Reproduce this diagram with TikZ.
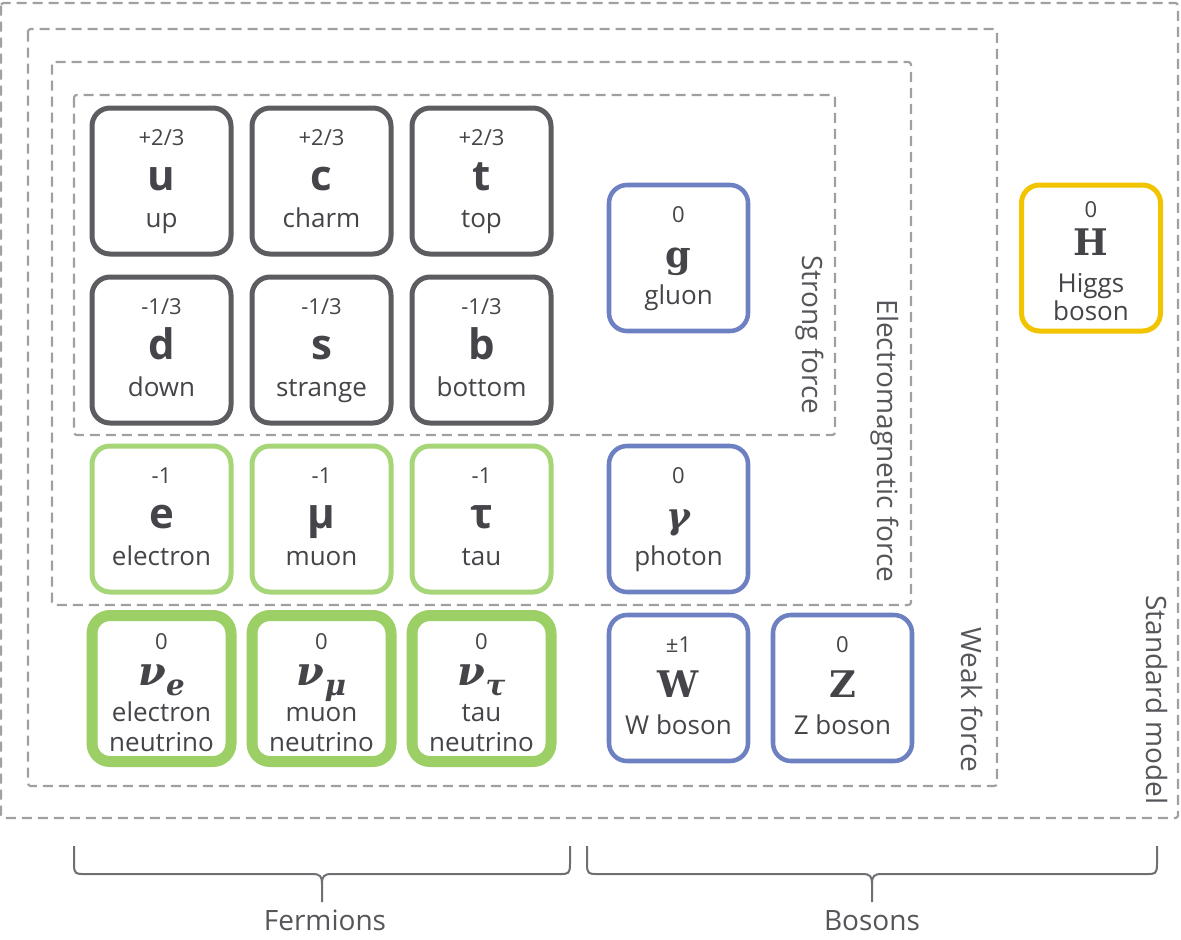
\documentclass[tikz,border=0pt]{standalone}
\usepackage{fontspec}
\setmainfont{Open Sans}
\newfontfamily\symserif{DejaVu Serif}
\usetikzlibrary{calc}
\definecolor{qgray}{HTML}{5C5C61}
\definecolor{lgreen}{HTML}{A6D677}
\definecolor{ngreen}{HTML}{9CCF66}
\definecolor{bblue}{HTML}{6D80C1}
\definecolor{hyellow}{HTML}{F2C400}
\definecolor{dashgray}{HTML}{A0A0A3}
\definecolor{txt}{HTML}{444449}
\definecolor{lbl}{HTML}{55555A}
\definecolor{bracecol}{HTML}{6E6E73}
\tikzset{
  pbox/.style={draw, fill=white, rounded corners=13.5pt, minimum width=104.25pt, minimum height=109.5pt, inner sep=0pt, line width=3.75pt},
  qbox/.style={pbox, draw=qgray},
  lbox/.style={pbox, draw=lgreen},
  nbox/.style={pbox, draw=ngreen, line width=8.25pt},
  bbox/.style={pbox, draw=bblue, line width=3.4pt},
  hbox/.style={pbox, draw=hyellow},
  chg/.style={anchor=base, inner sep=0pt, text=txt, font=\fontsize{16.5pt}{18pt}\selectfont},
  sym/.style={anchor=base, inner sep=0pt, text=txt, font=\fontsize{31.5pt}{34pt}\selectfont\bfseries},
  nm/.style={anchor=base, inner sep=0pt, text=txt, font=\fontsize{19.5pt}{22pt}\selectfont},
  zone/.style={draw=dashgray, line width=1.6pt, dash pattern=on 7.5pt off 4.5pt, rounded corners=2pt},
  zlabel/.style={rotate=-90, inner sep=0pt, text=lbl, font=\fontsize{21pt}{23pt}\selectfont},
  brace/.style={draw=bracecol, line width=1.5pt},
  glabel/.style={anchor=base, inner sep=0pt, text=lbl, font=\fontsize{21pt}{23pt}\selectfont},
}
\newcommand\serfont{\fontsize{27.5pt}{30pt}\selectfont\symserif\bfseries}
\newcommand\nufont{\fontsize{30pt}{32pt}\selectfont\symserif\bfseries\itshape}
\newcommand\nusub[1]{{\fontsize{22pt}{24pt}\selectfont\raisebox{-7.5pt}{#1}}}
% name, x, y, style, charge, symbol, label
\newcommand\particle[7]{%
  \node[#4] (#1) at (#2,#3) {};
  \node[chg] (#1-q) at ($(#1)+(0,-36)$) {#5};
  \node[sym] (#1-s) at ($(#1)+(0,9)$) {#6};
  \node[nm] (#1-n) at ($(#1)+(0,46)$) {#7};
}
% name, x, y, style, charge, symbol, line1, line2
\newcommand\particletwo[8]{%
  \node[#4] (#1) at (#2,#3) {};
  \node[chg] (#1-q) at ($(#1)+(0,-39)$) {#5};
  \node[sym] (#1-s) at ($(#1)+(0,-3)$) {#6};
  \node[nm] (#1-n1) at ($(#1)+(0,33)$) {#7};
  \node[nm] (#1-n2) at ($(#1)+(0,63)$) {#8};
}
\begin{document}
\begin{tikzpicture}[x=0.75pt,y=-0.75pt]
\useasboundingbox (0,0) rectangle (1181,939);
% zones
\draw[zone] (1,3) rectangle (1178,818);
\draw[zone] (28,29) rectangle (997,786);
\draw[zone] (52,62) rectangle (911,605);
\draw[zone] (74,95) rectangle (835,435);
\node[zlabel] (strong) at (810,335) {Strong force};
\node[zlabel] (em) at (885,441) {Electromagnetic force};
\node[zlabel] (weak) at (972,700) {Weak force};
\node[zlabel] (sm) at (1157,700) {Standard model};
% quarks
\particle{u}{161.5}{181}{qbox}{+2/3}{u}{up}
\particle{c}{321.5}{181}{qbox}{+2/3}{c}{charm}
\particle{t}{481.5}{181}{qbox}{+2/3}{t}{top}
\particle{d}{161.5}{350}{qbox}{-1/3}{d}{down}
\particle{s}{321.5}{350}{qbox}{-1/3}{s}{strange}
\particle{b}{481.5}{350}{qbox}{-1/3}{b}{bottom}
% leptons
\particle{e}{161.5}{519}{lbox}{-1}{e}{electron}
\particle{mu}{321.5}{519}{lbox}{-1}{μ}{muon}
\particle{tau}{481.5}{519}{lbox}{-1}{τ}{tau}
% neutrinos
\particletwo{nue}{161.5}{688.5}{nbox}{0}{{\nufont ν\nusub{e}}}{electron}{neutrino}
\particletwo{numu}{321.5}{688.5}{nbox}{0}{{\nufont ν\nusub{μ}}}{muon}{neutrino}
\particletwo{nutau}{481.5}{688.5}{nbox}{0}{{\nufont ν\nusub{τ}}}{tau}{neutrino}
% bosons
\particle{g}{678.5}{258}{bbox}{0}{{\serfont g}}{gluon}
\particle{gamma}{678.5}{519}{bbox}{0}{{\fontsize{27pt}{30pt}\selectfont\symserif\bfseries\itshape γ}}{photon}
\particle{W}{678.5}{688}{bbox}{±1}{{\serfont W}}{W boson}
\particle{Z}{842.5}{688}{bbox}{0}{{\serfont Z}}{Z boson}
% Higgs
\node[hbox] (H) at (1091,258) {};
\node[chg] (H-q) at ($(H)+(0,-41)$) {0};
\node[sym] (H-s) at ($(H)+(0,-3)$) {\serfont H};
\node[nm] (H-n1) at ($(H)+(0,34)$) {Higgs};
\node[nm] (H-n2) at ($(H)+(0,62)$) {boson};
% braces
\draw[brace] (74,846) -- (74,864) .. controls (74,874) and (76,874) .. (84,874) -- (312,874) .. controls (320,874) and (322,876) .. (322,884) -- (322,902);
\draw[brace] (570,846) -- (570,864) .. controls (570,874) and (568,874) .. (560,874) -- (332,874) .. controls (324,874) and (322,876) .. (322,884);
\draw[brace] (587,846) -- (587,864) .. controls (587,874) and (589,874) .. (597,874) -- (862,874) .. controls (870,874) and (872,876) .. (872,884) -- (872,902);
\draw[brace] (1157,846) -- (1157,864) .. controls (1157,874) and (1155,874) .. (1147,874) -- (882,874) .. controls (874,874) and (872,876) .. (872,884);
\node[glabel] (fermions) at (325,930) {Fermions};
\node[glabel] (bosons) at (872,930) {Bosons};
\end{tikzpicture}
\end{document}
